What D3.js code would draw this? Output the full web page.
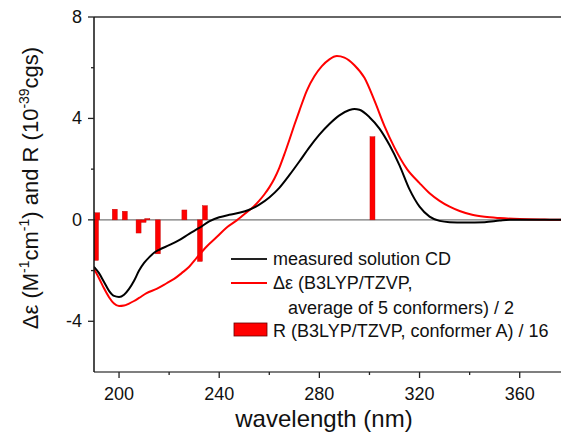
<!DOCTYPE html>
<html>
<head>
<meta charset="utf-8">
<script src="https://cdn.jsdelivr.net/npm/d3@7"></script>
<style>
  body { margin: 0; background: #fff; }
  text { font-family: "Liberation Sans", Arial, sans-serif; fill: #111; }
</style>
</head>
<body>
<svg width="561" height="438"></svg>
<script>
// measured CD (black)
const measWl = [190,192,194,196,198,200,202,204,206,208,210,212,214,216,220,224,228,232,236,240,244,248,252,256,260,264,268,272,276,280,284,288,292,294,296,300,304,308,312,316,320,324,328,332,338,346,352,356,380];
const measDe = [-1.85,-2.1,-2.45,-2.8,-3.0,-3.04,-2.95,-2.72,-2.4,-2.0,-1.7,-1.48,-1.3,-1.18,-1.0,-0.8,-0.55,-0.32,-0.06,0.1,0.2,0.28,0.4,0.6,0.88,1.26,1.76,2.3,2.86,3.36,3.78,4.12,4.33,4.37,4.34,4.05,3.6,2.95,2.15,1.2,0.52,0.13,-0.04,-0.09,-0.1,-0.09,-0.03,0,0];
// calculated, B3LYP/TZVP average / 2 (red)
const calcWl = [190,192,194,196,198,200,202,204,206,208,211,215,219,222,225,228,231,235,239,243,247,251,254,256,258,260,262,264,266,268,270,272,275,278,281,284,287,290,294,298,302,306,310,315,320,324,328,332,336,341,346,352,360,370,380];
const calcDe = [-1.94,-2.3,-2.7,-3.05,-3.3,-3.4,-3.38,-3.3,-3.2,-3.08,-2.89,-2.72,-2.5,-2.33,-2.1,-1.85,-1.5,-1.05,-0.68,-0.3,-0.02,0.3,0.55,0.76,1.0,1.28,1.62,2.05,2.58,3.15,3.74,4.3,5.1,5.66,6.06,6.33,6.46,6.4,6.1,5.6,4.7,3.7,2.85,2.0,1.45,1.05,0.75,0.52,0.35,0.2,0.12,0.07,0.03,0.01,0];
// rotational strengths, conformer A / 16
const barWl = [190.8,191.3,198.3,202.3,207.8,209.8,211.3,215.5,226.1,232.3,234.3,301.2];
const barR  = [-1.6,0.28,0.42,0.34,-0.52,-0.1,0.05,-1.34,0.39,-1.64,0.56,3.28];
const xMajor = [200,240,280,320,360];
const xMinor = [220,260,300,340];
const yMajor = [-4,0,4,8];
const yMinor = [-2,2,6];

const svg = d3.select('svg');
const x = d3.scaleLinear().domain([190, 380]).range([94, 569.8]);
const y = d3.scaleLinear().domain([-6, 8]).range([372, 17]);

svg.append('clipPath').attr('id', 'plot')
  .append('rect').attr('x', 94).attr('y', 17).attr('width', 480).attr('height', 355);

// zero line
svg.append('line')
  .attr('x1', 94).attr('x2', 561).attr('y1', y(0)).attr('y2', y(0))
  .attr('stroke', '#777').attr('stroke-width', 1.2);

const g = svg.append('g').attr('clip-path', 'url(#plot)');

// bars
const bw = x(192) - x(190);
g.selectAll('rect.bar').data(barWl).join('rect')
  .attr('class', 'bar')
  .attr('x', (d) => x(d) - bw / 2)
  .attr('width', bw)
  .attr('y', (d, i) => y(Math.max(0, barR[i])))
  .attr('height', (d, i) => Math.abs(y(barR[i]) - y(0)))
  .attr('fill', '#f00').attr('stroke', '#b00').attr('stroke-width', 0.4);

const line = d3.line().curve(d3.curveMonotoneX)
  .x((d) => x(d[0])).y((d) => y(d[1]));

g.append('path').datum(calcWl.map((w, i) => [w, calcDe[i]]))
  .attr('d', line).attr('fill', 'none').attr('stroke', '#f00').attr('stroke-width', 2);
g.append('path').datum(measWl.map((w, i) => [w, measDe[i]]))
  .attr('d', line).attr('fill', 'none').attr('stroke', '#000').attr('stroke-width', 2);

// axes frame
svg.append('line').attr('x1', 94).attr('x2', 561).attr('y1', 17).attr('y2', 17)
  .attr('stroke', '#333').attr('stroke-width', 1.5);
svg.append('line').attr('x1', 94).attr('x2', 561).attr('y1', 372).attr('y2', 372)
  .attr('stroke', '#555').attr('stroke-width', 1.5);
svg.append('line').attr('x1', 94).attr('x2', 94).attr('y1', 17).attr('y2', 372)
  .attr('stroke', '#111').attr('stroke-width', 1.5);

// x ticks
svg.selectAll('line.xt').data(xMajor.concat(xMinor)).join('line')
  .attr('x1', (d) => x(d)).attr('x2', (d) => x(d))
  .attr('y1', 372).attr('y2', (d) => xMajor.includes(d) ? 378 : 375)
  .attr('stroke', '#222').attr('stroke-width', 1.3);
svg.selectAll('text.xl').data(xMajor).join('text')
  .attr('x', (d) => x(d)).attr('y', 400)
  .attr('text-anchor', 'middle').attr('font-size', 18)
  .text((d) => d);

// y ticks
svg.selectAll('line.yt').data(yMajor.concat(yMinor)).join('line')
  .attr('y1', (d) => y(d)).attr('y2', (d) => y(d))
  .attr('x1', (d) => yMajor.includes(d) ? 88 : 91).attr('x2', 94)
  .attr('stroke', '#222').attr('stroke-width', 1.3);
svg.selectAll('text.yl').data(yMajor).join('text')
  .attr('x', 82).attr('y', (d) => y(d) + 6)
  .attr('text-anchor', 'end').attr('font-size', 18)
  .text((d) => d);

// axis titles
svg.append('text').attr('x', 324).attr('y', 427)
  .attr('text-anchor', 'middle').attr('font-size', 24)
  .text('wavelength (nm)');

const yt = svg.append('text')
  .attr('transform', 'translate(38,188) rotate(-90)')
  .attr('text-anchor', 'middle').attr('font-size', 22);
yt.append('tspan').text('\u0394\u03b5 (M');
yt.append('tspan').attr('font-size', 14).attr('dy', -9).text('-1');
yt.append('tspan').attr('dy', 9).text('cm');
yt.append('tspan').attr('font-size', 14).attr('dy', -9).text('-1');
yt.append('tspan').attr('dy', 9).text(') and R (10');
yt.append('tspan').attr('font-size', 14).attr('dy', -9).text('-39');
yt.append('tspan').attr('dy', 9).text('cgs)');

// legend
const lg = svg.append('g').attr('font-size', 18);
lg.append('line').attr('x1', 231).attr('x2', 267).attr('y1', 259).attr('y2', 259)
  .attr('stroke', '#222').attr('stroke-width', 2);
lg.append('text').attr('x', 273).attr('y', 265).text('measured solution CD');
lg.append('line').attr('x1', 231).attr('x2', 267).attr('y1', 283).attr('y2', 283)
  .attr('stroke', '#f00').attr('stroke-width', 2);
lg.append('text').attr('x', 273).attr('y', 289).text('\u0394\u03b5 (B3LYP/TZVP,');
lg.append('text').attr('x', 288).attr('y', 314).text('average of 5 conformers) / 2');
lg.append('rect').attr('x', 234).attr('y', 323).attr('width', 33).attr('height', 13)
  .attr('fill', '#f00').attr('stroke', '#600').attr('stroke-width', 0.8);
lg.append('text').attr('x', 273).attr('y', 337).text('R (B3LYP/TZVP, conformer A) / 16');
</script>
</body>
</html>
